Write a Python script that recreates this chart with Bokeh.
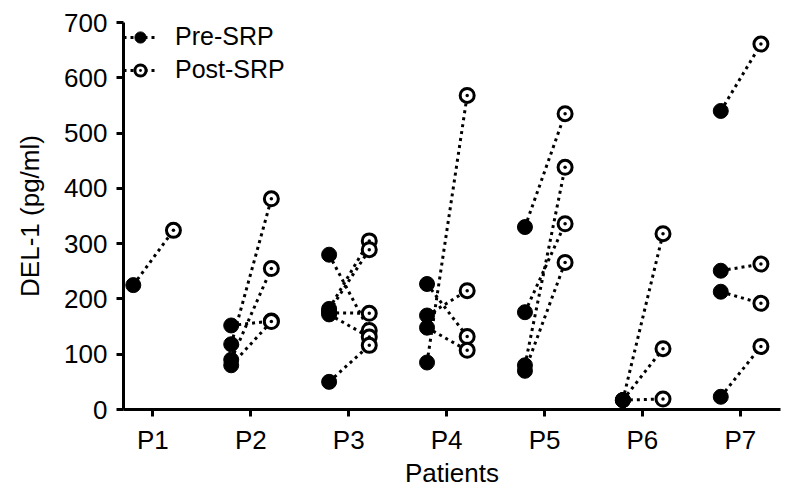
from bokeh.plotting import figure
from bokeh.models import ColumnDataSource, FixedTicker, Legend, LegendItem
from bokeh.embed import file_html
from bokeh.resources import INLINE

# ---- data ----
patients = ["P1", "P2", "P3", "P4", "P5", "P6", "P7"]
pre_values = [
    [225],
    [118, 90, 152, 80],
    [280, 182, 178, 175, 172, 50],
    [85, 227, 170, 148],
    [330, 176, 80, 70],
    [17, 17, 17],
    [540, 251, 213, 23],
]
post_values = [
    [324],
    [381, 255, 160, 159],
    [143, 305, 289, 174, 131, 116],
    [568, 132, 215, 107],
    [535, 336, 438, 266],
    [318, 110, 19],
    [661, 263, 192, 114],
]
y_ticks = [0, 100, 200, 300, 400, 500, 600, 700]

PRE_OFF = -0.2
POST_OFF = 0.21

xs_pre, ys_pre, xs_post, ys_post, seg_x, seg_y = [], [], [], [], [], []
for i, (pr, po) in enumerate(zip(pre_values, post_values)):
    c = i + 1
    for a, b in zip(pr, po):
        xs_pre.append(c + PRE_OFF)
        ys_pre.append(a)
        xs_post.append(c + POST_OFF)
        ys_post.append(b)
        seg_x.append([c + PRE_OFF, c + POST_OFF])
        seg_y.append([a, b])

FONT = "Liberation Sans"
FS = "26px"

p = figure(width=792, height=490, x_range=(0.7, 7.41), y_range=(0, 700),
           output_backend="svg", toolbar_location=None,
           min_border_left=123, min_border_right=12,
           min_border_top=22, min_border_bottom=81)
p.outline_line_color = None
p.xgrid.visible = False
p.ygrid.visible = False
p.background_fill_color = "white"

lines = p.multi_line(xs=seg_x, ys=seg_y, line_color="black", line_width=3,
                     line_dash="3 4")
pre_r = p.scatter(xs_pre, ys_pre, marker="circle", size=15, fill_color="black",
                  line_color="black")
post_r = p.scatter(xs_post, ys_post, marker="circle_dot", size=14,
                   fill_color="white", line_color="black", line_width=3)

legend = Legend(items=[LegendItem(label="Pre-SRP", renderers=[lines, pre_r]),
                       LegendItem(label="Post-SRP", renderers=[lines, post_r])],
                location="top_left", margin=0, padding=0,
                border_line_color=None, background_fill_alpha=0,
                label_text_font=FONT, label_text_font_size="25px",
                label_text_color="black",
                glyph_width=34, glyph_height=28, label_height=28,
                spacing=4, label_standoff=18)
p.add_layout(legend)

for ax in (p.xaxis[0], p.yaxis[0]):
    ax.axis_line_width = 3
    ax.axis_line_color = "black"
    ax.major_tick_line_width = 3
    ax.major_tick_line_color = "black"
    ax.major_tick_out = 7
    ax.major_tick_in = 0
    ax.minor_tick_line_color = None
    ax.major_label_text_font = FONT
    ax.major_label_text_font_size = FS
    ax.major_label_text_color = "black"
    ax.axis_label_text_font = FONT
    ax.axis_label_text_font_size = FS
    ax.axis_label_text_font_style = "normal"
    ax.axis_label_text_color = "black"

p.xaxis.ticker = FixedTicker(ticks=list(range(1, len(patients) + 1)))
p.xaxis.major_label_overrides = {i + 1: n for i, n in enumerate(patients)}
p.xaxis.axis_label = "Patients"
p.xaxis.major_label_standoff = 8
p.xaxis.axis_label_standoff = 0

p.yaxis.ticker = FixedTicker(ticks=y_ticks)
p.yaxis.axis_label = "DEL-1 (pg/ml)"
p.yaxis.major_label_standoff = 9
p.yaxis.axis_label_standoff = 16

open("out.html", "w").write(file_html(p, INLINE))
